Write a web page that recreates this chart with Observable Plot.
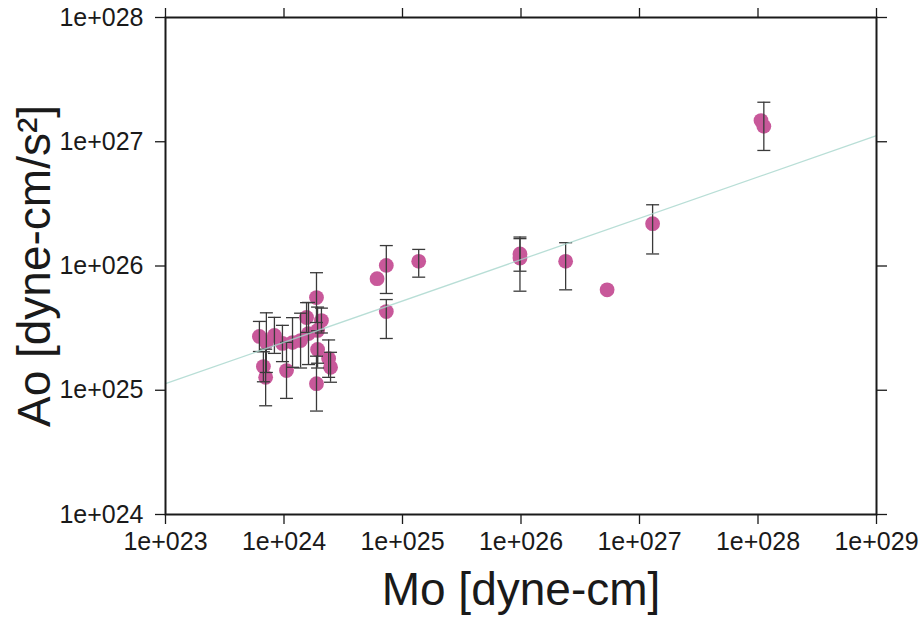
<!DOCTYPE html>
<html>
<head>
<meta charset="utf-8">
<script src="https://cdn.jsdelivr.net/npm/d3@7"></script>
<script src="https://cdn.jsdelivr.net/npm/@observablehq/plot@0.6"></script>
<style>
  html, body { margin: 0; padding: 0; background: #fff; }
  #chart { width: 922px; height: 618px; }
</style>
</head>
<body>
<div id="chart"></div>
<script>
// Seismic moment Mo [dyne-cm]
const mo = [6.2e23, 8.3e23, 7.1e23, 9.7e23, 1.18e24, 1.38e24, 1.61e24, 1.92e24, 1.55e24, 2.07e24,
            1.88e24, 1.92e24, 2.38e24, 2.47e24, 6.7e23, 7.0e23, 1.05e24, 1.88e24, 6.1e24, 7.3e24,
            7.3e24, 1.37e25, 9.8e25, 9.8e25, 2.38e26, 5.33e26, 1.29e27, 1.06e28, 1.12e28];
// Ao [dyne-cm/s^2]
const ao = [2.71e25, 2.76e25, 2.42e25, 2.38e25, 2.42e25, 2.51e25, 2.86e25, 3.03e25, 3.85e25, 3.64e25,
            5.57e25, 2.13e25, 1.80e25, 1.53e25, 1.55e25, 1.27e25, 1.44e25, 1.13e25, 7.9e25, 1.01e26,
            4.3e25, 1.09e26, 1.25e26, 1.16e26, 1.09e26, 6.43e25, 2.19e26, 1.48e27, 1.33e27];
// error bar bounds (null = no bar)
const aoLow = [2.05e25, 1.98e25, 1.39e25, 1.70e25, 1.53e25, 1.51e25, 1.61e25, 1.65e25, 2.92e25, 2.89e25,
               3.51e25, 1.51e25, 1.27e25, 1.16e25, 1.17e25, 7.5e24, 8.6e24, 6.8e24, null, 6.01e25,
               2.61e25, 8.13e25, 9.08e25, 6.27e25, 6.43e25, null, 1.25e26, null, 8.51e26];
const aoHigh = [3.58e25, 3.86e25, 4.2e25, 3.33e25, 3.84e25, 4.17e25, 5.09e25, 4.67e25, 5.07e25, 4.58e25,
                8.83e25, 3.01e25, 2.54e25, 2.02e25, 2.04e25, 2.14e25, 2.43e25, 1.88e25, null, 1.46e26,
                5.37e25, 1.36e26, 1.71e26, 1.66e26, 1.54e26, null, 3.11e26, null, 2.08e27];
// fitted line endpoints
const fitX = [1e23, 1e29];
const fitY = [1.13e25, 1.12e27];

const xTicks = [1e23, 1e24, 1e25, 1e26, 1e27, 1e28, 1e29];
const xTickLabels = ["1e+023", "1e+024", "1e+025", "1e+026", "1e+027", "1e+028", "1e+029"];
const yTicks = [1e24, 1e25, 1e26, 1e27, 1e28];
const yTickLabels = ["1e+024", "1e+025", "1e+026", "1e+027", "1e+028"];

const xLabel = "Mo [dyne-cm]";
const yLabel = "Ao [dyne-cm/s²]";

const points = mo.map((m, i) => ({mo: m, ao: ao[i], lo: aoLow[i], hi: aoHigh[i]}));
const bars = points.filter(d => d.lo != null);
const fit = fitX.map((x, i) => ({x, y: fitY[i]}));

const cap = { draw(ctx) { ctx.moveTo(-6.5, 0); ctx.lineTo(6.5, 0); } };
const ink = "#1a1a1a";
const fontFamily = "'Liberation Sans', Arial, sans-serif";

const chart = Plot.plot({
  width: 922,
  height: 618,
  marginLeft: 165,
  marginRight: 46,
  marginTop: 17,
  marginBottom: 104,
  style: { fontFamily, fontSize: "25px", color: ink, background: "#fff" },
  x: { type: "log", domain: [1e23, 1e29] },
  y: { type: "log", domain: [1e24, 1e28] },
  marks: [
    Plot.axisX({anchor: "bottom", ticks: xTicks, tickSize: 10, tickPadding: 8, strokeWidth: 1.3,
      tickFormat: d => xTickLabels[xTicks.indexOf(d)], label: null, fontSize: 25}),
    Plot.axisX({anchor: "top", ticks: xTicks, tickSize: 10, fill: "none", strokeWidth: 1.3, label: null}),
    Plot.axisY({anchor: "left", ticks: yTicks, tickSize: 10, tickPadding: 12, strokeWidth: 1.3,
      tickFormat: d => yTickLabels[yTicks.indexOf(d)], label: null, fontSize: 25}),
    Plot.axisY({anchor: "right", ticks: yTicks, tickSize: 10, fill: "none", strokeWidth: 1.3, label: null}),
    Plot.dot(points, {x: "mo", y: "ao", r: 7.4, fill: "#c8589a", stroke: "none"}),
    Plot.ruleX(bars, {x: "mo", y1: "lo", y2: "hi", stroke: "#3a3a3a", strokeWidth: 1.3}),
    Plot.dot(bars, {x: "mo", y: "lo", symbol: cap, r: 5, stroke: "#3a3a3a", strokeWidth: 1.3, fill: "none"}),
    Plot.dot(bars, {x: "mo", y: "hi", symbol: cap, r: 5, stroke: "#3a3a3a", strokeWidth: 1.3, fill: "none"}),
    Plot.line(fit, {x: "x", y: "y", stroke: "#a6d6cc", strokeWidth: 1.3, strokeOpacity: 0.8}),
    Plot.frame({stroke: ink, strokeWidth: 2}),
    Plot.text([xLabel], {frameAnchor: "bottom", dy: 76, lineAnchor: "middle", textAnchor: "middle",
      fontSize: 46, fill: ink, text: d => d}),
    Plot.text([yLabel], {frameAnchor: "left", dx: -130, rotate: -90, lineAnchor: "middle", textAnchor: "middle",
      fontSize: 46, fill: ink, text: d => d})
  ]
});
document.getElementById("chart").appendChild(chart);
</script>
</body>
</html>
